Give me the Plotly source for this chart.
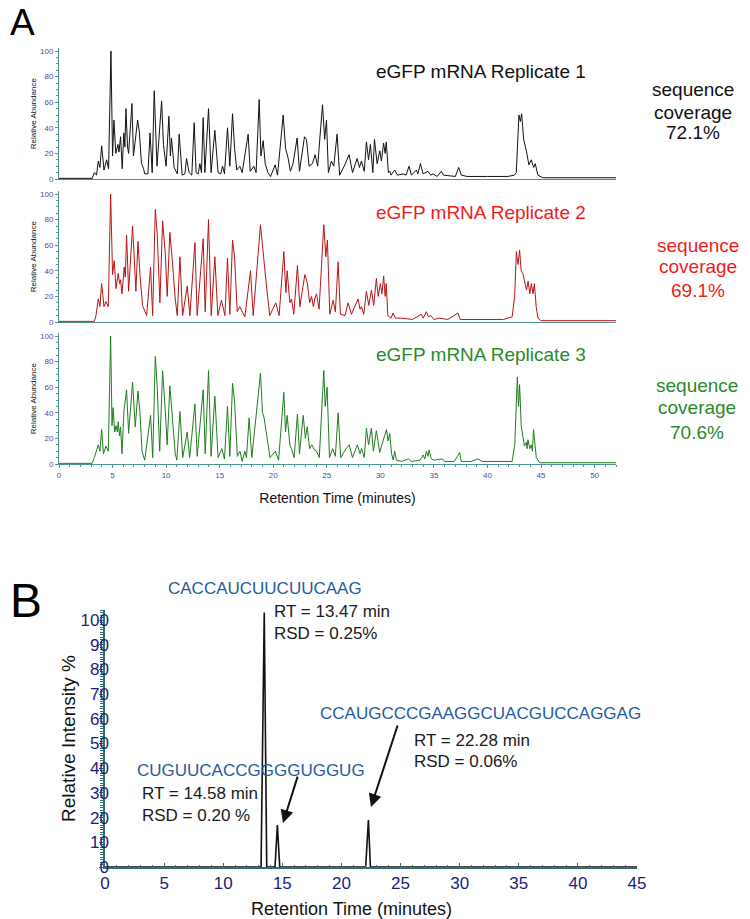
import plotly.graph_objects as go

# ---------------- Panel A data: chromatogram vertices (time in min, relative abundance) ----------------
rep1_t = [0, 3.1, 3.3, 3.5, 3.67, 3.82, 3.98, 4.2, 4.45, 4.63, 4.85, 5.0, 5.13, 5.3, 5.5, 5.6, 5.75, 5.9, 6.05, 6.15,
          6.25, 6.4, 6.5, 6.81, 6.95, 7.05, 7.34, 7.5, 7.7, 7.9, 8.0, 8.3, 8.5, 8.7, 8.89, 9.15, 9.58, 9.75, 10.0, 10.26,
          10.4, 10.5, 10.75, 11.05, 11.22, 11.5, 11.75, 11.91, 12.15, 12.4, 12.62, 12.8, 13.0, 13.15, 13.3, 13.46, 13.62,
          13.96, 14.2, 14.55, 14.85, 15.1, 15.27, 15.45, 15.73, 15.95, 16.2, 16.4, 16.6, 16.88, 17.1, 17.66, 17.85, 18.19,
          18.4, 18.69, 18.85, 19.06, 19.25, 19.5, 19.75, 20.18, 20.4, 20.93, 21.15, 21.4, 21.6, 21.85, 22.23, 22.45, 22.92,
          23.1, 23.35, 23.66, 23.91, 24.15, 24.6, 24.8, 24.97, 25.15, 25.43, 25.65, 25.96, 26.2, 26.68, 27.08, 27.4,
          27.83, 28.05, 28.23, 28.5, 28.7, 28.9, 29.07, 29.3, 29.45, 29.7, 29.95, 30.1, 30.3, 30.45, 30.55, 30.75, 30.88,
          31.0, 31.34, 31.6, 32.12, 32.4, 32.68, 32.9, 33.36, 33.5, 33.74, 33.99, 34.45, 34.7, 34.92, 35.3, 35.7, 35.9,
          37.0, 37.31, 37.56, 38.1, 40.0, 41.9, 42.5, 42.69, 42.94, 43.07, 43.19, 43.38, 43.63, 43.87, 44.09, 44.31,
          44.46, 44.71, 45.18, 52]
rep1_v = [0.5, 0.5, 5, 3, 14, 9, 26, 7, 15, 8, 100, 18, 46, 20, 27, 21, 33, 8, 36, 25,
          55, 25, 20, 59, 18, 25, 46, 37, 12, 8, 4, 4, 36, 5, 69, 10, 61, 27, 10, 49,
          18, 32, 9, 4, 35, 3, 4, 16, 5, 3, 44, 5, 4, 12, 5, 48, 5,
          55, 5, 38, 5, 4, 10, 4, 40, 10, 51, 23, 7, 10, 5, 35, 6, 10,
          5, 62, 18, 30, 12, 5, 2, 11, 3, 50, 24, 16, 6, 12, 32, 6, 33,
          31, 10, 12, 19, 10, 58, 31, 46, 5, 14, 10, 35, 3, 11, 19, 5,
          16, 9, 14, 6, 29, 15, 27, 5, 31, 12, 22, 14, 28, 20, 29, 5, 6,
          3, 7, 3, 4, 3, 10, 3, 7, 4, 12, 4, 6, 3, 4, 2, 6, 3,
          2, 9, 3, 2, 2, 2, 3, 5, 50, 45, 51, 31, 22, 11, 15, 9,
          12, 3, 1, 1]

rep2_t = [0, 3.3, 3.45, 3.67, 3.82, 3.98, 4.2, 4.38, 4.6, 4.82, 5.0, 5.16, 5.32, 5.53, 5.66, 5.75, 5.88, 6.09, 6.19,
          6.31, 6.5, 6.87, 7.18, 7.37, 7.56, 7.8, 8.18, 8.55, 8.74, 8.99, 9.17, 9.42, 9.67, 9.92, 10.1, 10.35, 10.6,
          10.85, 11.04, 11.29, 11.54, 11.97, 12.22, 12.69, 12.9, 13.46, 13.65, 13.96, 14.21, 14.55, 14.83, 15.17, 15.49,
          15.73, 15.95, 16.2, 16.39, 16.64, 16.88, 17.35, 17.88, 18.13, 18.81, 19.0, 19.15, 19.37, 19.68, 20.24, 20.55,
          20.99, 21.18, 21.3, 21.55, 21.7, 21.92, 22.26, 22.48, 22.95, 23.17, 23.4, 23.57, 23.75, 23.88, 24.04, 24.28,
          24.72, 24.91, 25.06, 25.28, 25.59, 25.8, 26.06, 26.27, 26.7, 26.99, 27.3, 27.92, 28.1, 28.23, 28.45, 28.7,
          28.92, 29.17, 29.38, 29.63, 29.8, 30.0, 30.15, 30.31, 30.45, 30.55, 30.7, 31.0, 31.19, 31.4, 32.0, 33.0, 33.4,
          33.83, 34.0, 34.3, 34.5, 34.7, 35.0, 35.5, 36.3, 37.25, 37.45, 39.0, 41.5, 42.3, 42.54, 42.7, 42.85, 43.0,
          43.15, 43.3, 43.5, 43.65, 43.8, 43.95, 44.1, 44.25, 44.38, 44.55, 44.72, 45.0, 52]
rep2_v = [0.5, 0.5, 5, 18, 12, 30, 12, 16, 12, 100, 37, 48, 26, 38, 30, 33, 22, 43, 35,
          68, 24, 75, 24, 63, 37, 13, 5, 43, 5, 88, 69, 15, 79, 54, 20, 70, 46,
          18, 5, 51, 5, 28, 5, 62, 5, 65, 8, 80, 5, 51, 5, 17, 5,
          50, 6, 64, 51, 8, 12, 4, 40, 5, 76, 59, 42, 28, 5, 15, 5,
          55, 23, 40, 15, 18, 6, 44, 12, 37, 31, 15, 20, 12, 18, 22, 10,
          76, 51, 64, 6, 17, 8, 47, 6, 5, 15, 6, 18, 10, 12, 6, 24,
          13, 25, 13, 34, 20, 30, 22, 36, 20, 30, 5, 3, 7, 3, 3, 2, 4,
          6, 3, 8, 4, 5, 2, 3, 2, 7, 2, 2, 2, 4, 20, 55, 45, 56,
          40, 38, 30, 25, 32, 22, 30, 22, 30, 12, 3, 1, 1]

rep3_t = [0, 3.1, 3.3, 3.67, 3.82, 3.98, 4.15, 4.38, 4.6, 4.82, 4.95, 5.05, 5.2, 5.33, 5.45, 5.53, 5.65, 5.75, 5.88,
          6.06, 6.31, 6.5, 6.87, 7.12, 7.37, 7.56, 7.75, 8.0, 8.55, 8.75, 8.99, 9.17, 9.4, 9.67, 9.92, 10.1, 10.35, 10.6,
          10.85, 11.0, 11.29, 11.55, 11.97, 12.2, 12.69, 12.9, 13.46, 13.65, 13.96, 14.2, 14.55, 14.85, 15.2, 15.45,
          15.73, 15.95, 16.2, 16.39, 16.65, 16.9, 17.1, 17.35, 17.5, 17.75, 18.0, 18.81, 19.0, 19.15, 19.4, 19.7, 20.2,
          20.5, 20.99, 21.15, 21.3, 21.55, 21.7, 21.95, 22.26, 22.45, 22.8, 23.0, 23.17, 23.4, 23.6, 23.85, 24.05, 24.3,
          24.72, 24.85, 25.03, 25.25, 25.55, 25.8, 26.06, 26.3, 26.8, 27.1, 27.4, 27.85, 28.1, 28.25, 28.5, 28.7, 28.9,
          29.16, 29.35, 29.63, 29.94, 30.3, 30.57, 30.72, 30.87, 31.05, 31.2, 31.34, 31.5, 32.0, 32.6, 32.9, 33.7, 34.0,
          34.15, 34.3, 34.45, 34.55, 34.75, 35.0, 35.8, 36.0, 36.9, 37.41, 37.55, 38.5, 39.1, 39.5, 42.3, 42.55, 42.79,
          42.9, 43.0, 43.15, 43.3, 43.45, 43.63, 43.7, 43.78, 43.95, 44.09, 44.2, 44.3, 44.45, 44.56, 44.87, 52]
rep3_v = [0.5, 0.5, 5, 15, 10, 27, 8, 14, 10, 100, 30, 44, 25, 30, 25, 33, 22, 29, 8,
          41, 58, 24, 64, 29, 57, 40, 10, 3, 38, 5, 84, 60, 10, 73, 42, 15, 61, 34,
          8, 3, 41, 5, 25, 5, 47, 6, 58, 8, 73, 6, 53, 5, 12, 4,
          45, 6, 63, 49, 6, 10, 2, 10, 5, 36, 5, 71, 40, 36, 20, 5, 10,
          3, 56, 25, 38, 15, 12, 5, 39, 8, 38, 20, 29, 12, 15, 11, 10, 5,
          73, 45, 60, 5, 12, 6, 40, 5, 12, 15, 5, 15, 8, 12, 5, 28, 15,
          28, 10, 26, 9, 20, 27, 18, 24, 8, 3, 10, 3, 2, 4, 2, 3, 7,
          4, 10, 6, 11, 4, 3, 4, 2, 2, 9, 2, 2, 4, 2, 2, 15, 68,
          45, 62, 30, 20, 14, 17, 12, 19, 12, 15, 10, 27, 10, 5, 1, 1]

rep_titles = ["eGFP mRNA Replicate 1", "eGFP mRNA Replicate 2", "eGFP mRNA Replicate 3"]
rep_coverage = ["72.1%", "69.1%", "70.6%"]
a_xticks = [0, 5, 10, 15, 20, 25, 30, 35, 40, 45, 50]
a_yticks = [0, 20, 40, 60, 80, 100]

# ---------------- Panel B data ----------------
b_t = [0, 13.2, 13.47, 13.68, 14.38, 14.58, 14.78, 22.05, 22.28, 22.45, 45]
b_v = [0, 0, 103, 0, 0, 17, 0, 0, 19, 0, 0]
b_xticks = [0, 5, 10, 15, 20, 25, 30, 35, 40, 45]
b_yticks = [0, 10, 20, 30, 40, 50, 60, 70, 80, 90, 100]
b_peaks = [
    # sequence, RT, RSD
    ("CACCAUCUUCUUCAAG", "RT = 13.47 min", "RSD = 0.25%"),
    ("CUGUUCACCGGGGUGGUG", "RT = 14.58 min", "RSD = 0.20 %"),
    ("CCAUGCCCGAAGGCUACGUCCAGGAG", "RT = 22.28 min", "RSD = 0.06%"),
]

W, H = 750, 919
OFF = 8   # page body margin offset of the plot div
FONT = "Liberation Sans, Arial, sans-serif"
TEAL = "#4f9090"
TICKBLUE = "#4a4aa8"


def px(x):
    return (x - OFF) / W


def py(y):
    return 1 - (y - OFF) / H


fig = go.Figure()

rep_colors = ["#111111", "#b81414", "#1f7d1f"]
text_colors = ["#111111", "#ee1c1c", "#2a8a2a"]
reps = [(rep1_t, rep1_v), (rep2_t, rep2_v), (rep3_t, rep3_v)]
zero_px = [179, 322, 464]   # pixel rows of value 0 for each replicate panel
scale = 1.28                # px per unit

for i, ((t, v), col) in enumerate(zip(reps, rep_colors)):
    n = "" if i == 0 else str(i + 1)
    fig.add_trace(go.Scatter(x=t, y=v, mode="lines", line=dict(color=col, width=1),
                             xaxis="x" + n, yaxis="y" + n, showlegend=False, hoverinfo="skip"))
    top = zero_px[i] - 102 * scale
    last = (i == 2)
    fig.update_layout(**{
        "xaxis" + n: dict(domain=[px(59), px(616)], range=[0, 52], anchor="y" + n, automargin=False,
                          showgrid=False, zeroline=False, showline=True, linecolor=TEAL, linewidth=1,
                          tickvals=a_xticks if last else [], ticks="outside" if last else "",
                          ticklen=3, tickcolor=TEAL,
                          minor=dict(dtick=1, ticks="outside", ticklen=2, tickcolor=TEAL) if last else None,
                          showticklabels=last,
                          tickfont=dict(family=FONT, size=8, color=TICKBLUE),
                          title=dict(text="Retention Time (minutes)" if last else "",
                                     font=dict(family=FONT, size=14, color="#111111"), standoff=14)),
        "yaxis" + n: dict(domain=[py(zero_px[i]), py(top)], range=[0, 102], anchor="x" + n, automargin=False,
                          showgrid=False, zeroline=False, showline=True, linecolor=TEAL, linewidth=1,
                          tickvals=a_yticks, ticks="outside", ticklen=3, tickcolor=TEAL,
                          minor=dict(tickvals=[5, 10, 15, 25, 30, 35, 45, 50, 55, 65, 70, 75, 85, 90, 95],
                                     ticks="outside", ticklen=2, tickcolor=TEAL),
                          tickfont=dict(family=FONT, size=8, color=TICKBLUE),
                          title=dict(text="Relative Abundance", font=dict(family=FONT, size=8, color="#111111"),
                                     standoff=2)),
    })

# Panel B trace
fig.add_trace(go.Scatter(x=b_t, y=b_v, mode="lines", line=dict(color="#111111", width=1.6),
                         xaxis="x4", yaxis="y4", showlegend=False, hoverinfo="skip"))
BTEAL = "#2f6f70"
NAVY = "#1c1c80"
fig.update_layout(
    xaxis4=dict(domain=[px(105), px(637)], range=[0, 45], anchor="y4", showgrid=False, zeroline=False,
                automargin=False,
                showline=True, linecolor=BTEAL, linewidth=1.5, tickvals=b_xticks, ticks="inside",
                ticklen=4, tickcolor=BTEAL,
                minor=dict(dtick=1, ticks="inside", ticklen=2, tickcolor=BTEAL),
                tickfont=dict(family=FONT, size=17, color=NAVY)),
    yaxis4=dict(domain=[py(867), py(867 - 104 * 2.47)], range=[0, 104], anchor="x4", showgrid=False,
                automargin=False,
                zeroline=False, showline=True, linecolor=BTEAL, linewidth=1.5, tickvals=b_yticks,
                ticks="outside", ticklen=4, tickcolor=BTEAL, ticklabelstandoff=-13,
                minor=dict(dtick=1, ticks="outside", ticklen=3, tickcolor=BTEAL),
                tickfont=dict(family=FONT, size=17, color=NAVY),
                title=dict(text="Relative Intensity %", font=dict(family=FONT, size=19, color="#111111"),
                           standoff=0)),
)

ann = []
# Panel letters
ann.append(dict(text="A", x=px(8), y=py(23), xref="paper", yref="paper", xanchor="left", yanchor="middle",
                showarrow=False, font=dict(family=FONT, size=37, color="#000000")))
ann.append(dict(text="B", x=px(8), y=py(600), xref="paper", yref="paper", xanchor="left", yanchor="middle",
                showarrow=False, font=dict(family=FONT, size=48, color="#000000")))

title_y = [72, 213, 355]
cov_y = [(90, 112, 133), (245, 267, 290), (385, 408, 432)]
cov_x = [693, 698, 697]
for i in range(3):
    ann.append(dict(text=rep_titles[i], x=px(374), y=py(title_y[i]), xref="paper", yref="paper",
                    xanchor="left", yanchor="middle", showarrow=False,
                    font=dict(family=FONT, size=19, color=text_colors[i])))
    for line, yy in zip(["sequence", "coverage", rep_coverage[i]], cov_y[i]):
        ann.append(dict(text=line, x=px(cov_x[i]), y=py(yy), xref="paper", yref="paper",
                        xanchor="center", yanchor="middle", showarrow=False,
                        font=dict(family=FONT, size=19, color=text_colors[i])))

# Panel B labels
SEQBLUE = "#1f5c9c"
b_seq_pos = [(166, 588), (135, 770), (318, 713)]
b_info_pos = [(272, 611, 633), (140, 793, 815), (412, 740, 761)]
for (seq, rt, rsd), (sx, sy), (ix, iy1, iy2) in zip(b_peaks, b_seq_pos, b_info_pos):
    ann.append(dict(text=seq, x=px(sx), y=py(sy), xref="paper", yref="paper", xanchor="left",
                    yanchor="middle", showarrow=False, font=dict(family=FONT, size=17, color=SEQBLUE)))
    ann.append(dict(text=rt, x=px(ix), y=py(iy1), xref="paper", yref="paper", xanchor="left",
                    yanchor="middle", showarrow=False, font=dict(family=FONT, size=17, color="#1a1a1a")))
    ann.append(dict(text=rsd, x=px(ix), y=py(iy2), xref="paper", yref="paper", xanchor="left",
                    yanchor="middle", showarrow=False, font=dict(family=FONT, size=17, color="#1a1a1a")))

# arrows (head at data point near peak, tail near label)
ann.append(dict(text="", x=15.06, y=17.8, xref="x4", yref="y4", ax=16.33, ay=37.2, axref="x4", ayref="y4",
                showarrow=True, arrowhead=2, arrowsize=1.3, arrowwidth=2, arrowcolor="#111111"))
ann.append(dict(text="", x=22.5, y=24.3, xref="x4", yref="y4", ax=24.79, ay=57.9, axref="x4", ayref="y4",
                showarrow=True, arrowhead=2, arrowsize=1.3, arrowwidth=2, arrowcolor="#111111"))

# Panel B x-axis title
ann.append(dict(text="Retention Time (minutes)", x=px(351), y=py(909), xref="paper", yref="paper",
                xanchor="center", yanchor="middle", showarrow=False,
                font=dict(family=FONT, size=18, color="#111111")))

fig.update_layout(annotations=ann, width=W, height=H, autosize=False,
                  margin=dict(l=0, r=0, t=0, b=0, pad=0), paper_bgcolor="white", plot_bgcolor="white",
                  font=dict(family=FONT))

fig.write_html("out.html")
